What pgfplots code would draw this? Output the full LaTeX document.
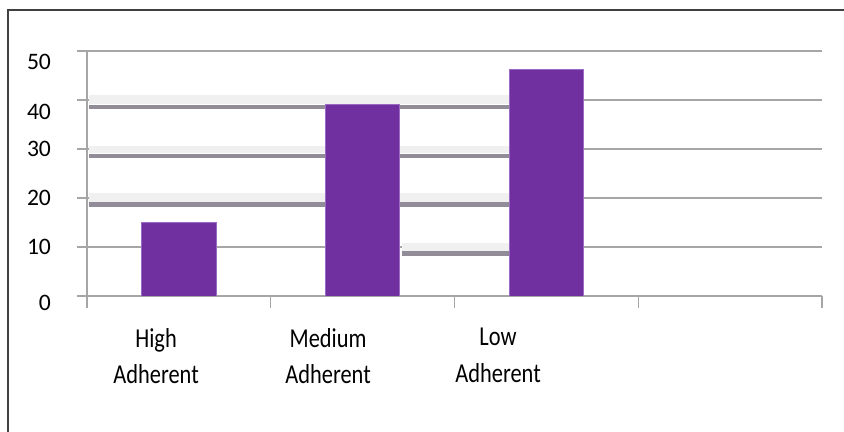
\documentclass[border=0pt]{standalone}
\usepackage{pgfplots}
\pgfplotsset{compat=1.18}
\usepackage{fontspec}
\setmainfont{Carlito}
\definecolor{barpurple}{HTML}{7030A0}
\definecolor{baredge}{HTML}{9B6BC4}
\definecolor{gridgray}{HTML}{A6A6A6}
\definecolor{ghost}{HTML}{928C99}
\definecolor{band}{HTML}{F0F0F0}
\newcommand{\tl}[1]{\scalebox{1}[1.22]{#1}}
\begin{document}
\begin{tikzpicture}[x=1pt,y=1pt]
\path[use as bounding box] (0,0) rectangle (422,216);
\draw[line width=1pt, color=black!75] (4,-2) -- (4,211) -- (424,211);
\begin{axis}[
  at={(43.5pt,68pt)}, anchor=south west,
  scale only axis, width=367.5pt, height=122.5pt,
  xmin=-0.5, xmax=3.5, ymin=0, ymax=50,
  axis x line=bottom, axis y line=left,
  axis line style={draw=gridgray, line width=0.65pt, -},
  tick align=outside,
  ytick={0,10,20,30,40,50},
  yticklabels={\rule{0pt}{14.6pt}0,10,20,30,\rule{0pt}{19.6pt}40,\rule{0pt}{18.6pt}50},
  ymajorgrids, grid style={draw=gridgray, line width=0.65pt},
  major tick length=5pt,
  ytick style={draw=gridgray, line width=0.65pt},
  xtick={-0.124,0.812,1.737},
  xticklabels={\tl{High}\\\tl{Adherent}, \tl{Medium}\\\tl{Adherent}, \tl{Low}\\\tl{Adherent}},
  xtick style={draw=none},
  minor xtick={-0.5,0.5,1.5,2.5,3.5},
  minor tick length=6pt,
  minor x tick style={draw=gridgray, line width=0.65pt},
  yticklabel style={font=\fontsize{11.8}{14}\selectfont, anchor=east, xshift=-9.5pt},
  xticklabel style={font=\fontsize{11.2}{18.3}\selectfont, align=center, anchor=north, yshift=-7.5pt},
  /pgf/number format/assume math mode=true,
]
% light bands of the ghost lines
\addplot[fill=band, draw=none, forget plot] coordinates {(-0.49,39.1) (1.80,39.1) (1.80,41.0) (-0.49,41.0)} -- cycle;
\addplot[fill=band, draw=none, forget plot] coordinates {(-0.49,29.1) (1.80,29.1) (1.80,30.6) (-0.49,30.6)} -- cycle;
\addplot[fill=band, draw=none, forget plot] coordinates {(-0.49,19.1) (1.80,19.1) (1.80,21.0) (-0.49,21.0)} -- cycle;
\addplot[fill=band, draw=none, forget plot] coordinates {(1.214,9.1) (1.80,9.1) (1.80,10.8) (1.214,10.8)} -- cycle;
% ghost lines
\addplot[ghost, line width=2.3pt, forget plot] coordinates {(-0.49,38.6) (1.80,38.6)};
\addplot[ghost, line width=2.3pt, forget plot] coordinates {(-0.49,28.6) (1.80,28.6)};
\addplot[ghost, line width=2.3pt, forget plot] coordinates {(-0.49,18.7) (1.80,18.7)};
\addplot[ghost, line width=2.3pt, forget plot] coordinates {(1.214,8.7) (1.80,8.7)};
% bars
\addplot[ybar, bar width=0.405, fill=barpurple, draw=baredge, line width=0.4pt] coordinates {(0,15.1) (1,39.0) (2,46.3)};
\end{axis}
\end{tikzpicture}
\end{document}
